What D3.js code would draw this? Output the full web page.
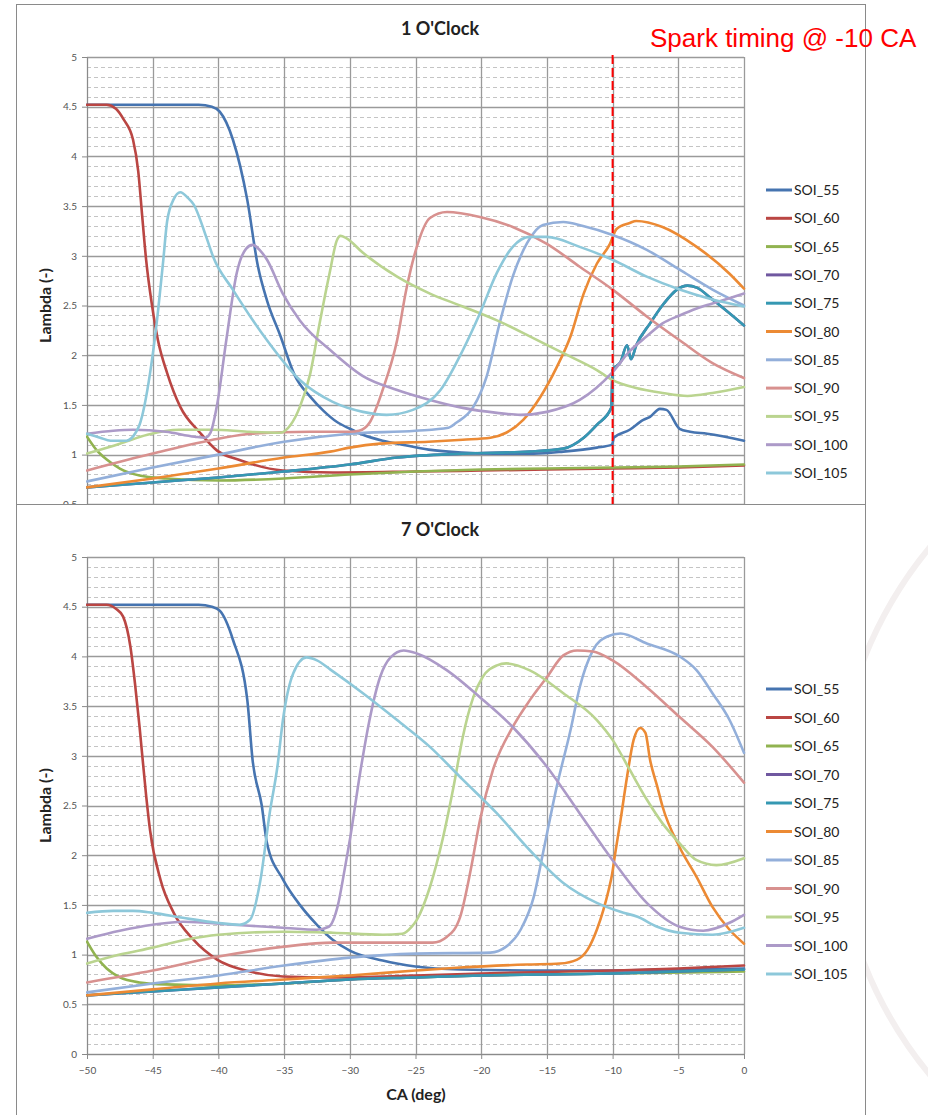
<!DOCTYPE html>
<html><head><meta charset="utf-8">
<script src="https://cdn.jsdelivr.net/npm/d3@7"></script>
<style>body{margin:0;background:#fff}svg{display:block}</style>
</head><body>
<script>
// ---------- data ----------
const seriesNames = ["SOI_55","SOI_60","SOI_65","SOI_70","SOI_75","SOI_80","SOI_85","SOI_90","SOI_95","SOI_100","SOI_105"];
const seriesColors = ["#4674B0","#BA4643","#91B350","#7058A0","#3598B2","#EC8A34","#93AFDA","#D8918F","#BAD48F","#AC9AC8","#8DC8DA"];
const xTicks = [-50,-45,-40,-35,-30,-25,-20,-15,-10,-5,0];
const yTicks = [0,0.5,1,1.5,2,2.5,3,3.5,4,4.5,5];
const sparkCA = -10;

// 1 O'Clock  [CA, lambda]
const oc1_SOI_55 = [[-50,4.52],[-41.5,4.52],[-40.5,4.5],[-39.9,4.45],[-38.9,4.17],[-37.8,3.56],[-37,2.9],[-36.3,2.55],[-35.3,2.2],[-34.2,1.8],[-33,1.58],[-32,1.44],[-31,1.33],[-30,1.26],[-29,1.2],[-27.5,1.14],[-26,1.1],[-24,1.05],[-21.5,1.02],[-19,1.01],[-16,1.01],[-13.75,1.03],[-11.2,1.07],[-10.05,1.10],[-9.9,1.17],[-8.7,1.25],[-7.66,1.35],[-7.15,1.38],[-6.4,1.46],[-5.9,1.45],[-4.9,1.26],[-4.1,1.23],[-2.8,1.21],[0,1.14]];
const oc1_SOI_60 = [[-50,4.52],[-48.5,4.52],[-47.8,4.48],[-47.2,4.37],[-46.5,4.17],[-46.1,3.85],[-45.8,3.4],[-45.5,2.96],[-45.05,2.5],[-44.6,2.15],[-43.9,1.82],[-42.9,1.48],[-41.4,1.22],[-40.1,1.04],[-38.5,0.95],[-37.6,0.91],[-35.1,0.84],[-31.3,0.82],[-25,0.83],[-20,0.84],[-10,0.86],[-5,0.87],[0,0.89]];
const oc1_SOI_65 = [[-50,1.18],[-49.3,1.05],[-48.5,0.95],[-47.5,0.86],[-46,0.79],[-44,0.76],[-40,0.74],[-35,0.76],[-30,0.8],[-25,0.83],[-20,0.85],[-15,0.86],[-10,0.87],[-5,0.88],[0,0.9]];
const oc1_SOI_70 = [[-50,0.67],[-45,0.72],[-40,0.77],[-35,0.83],[-30,0.9],[-26.4,0.97],[-21.4,1.01],[-16.3,1.03],[-13.75,1.06],[-12.2,1.17],[-11.2,1.3],[-10.1,1.47],[-10,1.85],[-9.4,1.93],[-8.9,2.1],[-8.6,1.96],[-8.2,2.1],[-7.15,2.32],[-6.1,2.52],[-5.1,2.66],[-4.3,2.70],[-3.6,2.68],[-2.4,2.56],[0,2.3]];
const oc1_SOI_75 = [[-50,0.67],[-45,0.72],[-40,0.77],[-35,0.83],[-30,0.9],[-26.4,0.97],[-21.4,1.01],[-16.3,1.03],[-13.75,1.06],[-12.2,1.17],[-11.2,1.3],[-10.1,1.47],[-10,1.85],[-9.4,1.93],[-8.9,2.1],[-8.6,1.96],[-8.2,2.1],[-7.15,2.32],[-6.1,2.52],[-5.1,2.66],[-4.3,2.70],[-3.6,2.68],[-2.4,2.56],[0,2.3]];
const oc1_SOI_80 = [[-50,0.67],[-45,0.76],[-40,0.86],[-35,0.97],[-31.5,1.03],[-30,1.07],[-27.7,1.11],[-24,1.13],[-21.4,1.15],[-19.3,1.17],[-18.1,1.22],[-16.8,1.35],[-15.5,1.58],[-14.25,1.88],[-13.2,2.19],[-12.2,2.62],[-11.2,2.92],[-10.2,3.12],[-9.7,3.27],[-8.7,3.33],[-8.2,3.35],[-6.2,3.29],[-3.6,3.09],[-1.1,2.82],[0,2.67]];
const oc1_SOI_85 = [[-50,0.73],[-45,0.87],[-40,1.0],[-35,1.13],[-30,1.21],[-25,1.24],[-22.5,1.27],[-21.9,1.32],[-20.6,1.48],[-19.6,1.78],[-18.6,2.32],[-17.6,2.79],[-16.5,3.13],[-15.3,3.31],[-13.75,3.34],[-12.25,3.3],[-10,3.21],[-7.4,3.06],[-4.9,2.86],[-2.4,2.66],[0,2.5]];
const oc1_SOI_90 = [[-50,0.84],[-45,1.01],[-40,1.16],[-37.5,1.21],[-33,1.23],[-30,1.23],[-29.3,1.24],[-28.5,1.32],[-27.5,1.65],[-26.4,2.15],[-25.7,2.66],[-24.9,3.09],[-23.9,3.38],[-22.6,3.44],[-20.1,3.39],[-17.6,3.29],[-15,3.12],[-12.5,2.89],[-10,2.66],[-7.4,2.39],[-4.9,2.15],[-2.4,1.92],[0,1.77]];
const oc1_SOI_95 = [[-50,1.01],[-47.5,1.11],[-45.4,1.2],[-43,1.25],[-40.4,1.25],[-37.8,1.23],[-35.3,1.22],[-34.5,1.3],[-33.8,1.48],[-33,1.82],[-32.3,2.32],[-31.5,2.85],[-31,3.15],[-30.7,3.2],[-30.3,3.18],[-29,3.03],[-26.4,2.79],[-23.9,2.62],[-21.4,2.49],[-18.8,2.35],[-16.3,2.19],[-13.75,2.02],[-11.2,1.85],[-10,1.75],[-8.2,1.67],[-6.2,1.62],[-4.3,1.59],[-2.4,1.62],[0,1.68]];
const oc1_SOI_100 = [[-50,1.21],[-48,1.24],[-46.5,1.25],[-44,1.23],[-41.8,1.18],[-41,1.17],[-40.6,1.22],[-40.1,1.5],[-39.4,2.15],[-38.6,2.83],[-37.9,3.07],[-37.4,3.11],[-36.8,3.05],[-36.3,2.96],[-35.1,2.62],[-33.8,2.35],[-31.3,2.03],[-29,1.79],[-26.4,1.65],[-23.9,1.55],[-21.4,1.47],[-18.8,1.42],[-17,1.40],[-15,1.43],[-12.5,1.55],[-10,1.83],[-8.7,2.04],[-7.4,2.19],[-6.2,2.32],[-4.9,2.4],[-3.6,2.47],[-2.4,2.52],[0,2.62]];
const oc1_SOI_105 = [[-50,1.21],[-49,1.17],[-48.2,1.14],[-47,1.14],[-46.3,1.22],[-46,1.3],[-45.2,1.82],[-44.7,2.32],[-44.2,2.95],[-43.9,3.35],[-43.4,3.57],[-42.9,3.64],[-42.3,3.58],[-41.9,3.52],[-40.9,3.18],[-40.4,2.99],[-38.9,2.66],[-36.3,2.15],[-33.8,1.75],[-31.3,1.53],[-29,1.43],[-27.2,1.40],[-25.2,1.45],[-23.1,1.65],[-21.4,2.05],[-20.1,2.42],[-18.8,2.83],[-17.6,3.09],[-16.3,3.19],[-15,3.19],[-12.5,3.09],[-10,2.96],[-7.4,2.79],[-4.9,2.66],[-2.4,2.56],[0,2.49]];

// 7 O'Clock  [CA, lambda]
const oc7_SOI_55 = [[-50,4.52],[-41.5,4.52],[-40.5,4.5],[-39.9,4.46],[-38.9,4.17],[-37.8,3.56],[-37.4,2.96],[-36.7,2.5],[-36.3,2.12],[-35.1,1.76],[-33.8,1.5],[-32.5,1.3],[-31.3,1.15],[-30,1.04],[-27.5,0.94],[-25,0.88],[-21.6,0.85],[-15,0.84],[-10,0.84],[-5,0.85],[0,0.86]];
const oc7_SOI_60 = [[-50,4.52],[-48.5,4.52],[-47.8,4.48],[-47.25,4.4],[-46.7,4.1],[-46.35,3.73],[-46,3.29],[-45.5,2.6],[-45.2,2.25],[-44.4,1.75],[-43.4,1.42],[-41.9,1.15],[-40.1,0.95],[-37.6,0.83],[-35.1,0.78],[-31.3,0.77],[-25,0.79],[-20,0.81],[-10,0.84],[-5,0.86],[0,0.89]];
const oc7_SOI_65 = [[-50,1.13],[-49.3,0.98],[-48.5,0.86],[-47.5,0.77],[-46,0.72],[-44,0.7],[-40,0.69],[-35,0.71],[-30,0.75],[-25,0.77],[-20,0.79],[-10,0.81],[0,0.83]];
const oc7_SOI_70 = [[-50,0.59],[-45,0.63],[-40,0.67],[-35,0.71],[-30,0.75],[-25,0.77],[-20,0.79],[-15,0.8],[-10,0.81],[-5,0.83],[0,0.85]];
const oc7_SOI_75 = [[-50,0.59],[-45,0.63],[-40,0.67],[-35,0.71],[-30,0.75],[-25,0.77],[-20,0.79],[-15,0.8],[-10,0.81],[-5,0.83],[0,0.85]];
const oc7_SOI_80 = [[-50,0.59],[-45,0.65],[-40,0.71],[-35,0.75],[-30,0.79],[-25,0.84],[-21.6,0.87],[-16.5,0.9],[-14,0.91],[-12.7,0.95],[-11.9,1.05],[-11.2,1.25],[-10.7,1.45],[-10.3,1.65],[-10.05,1.8],[-9.8,2.02],[-9.4,2.35],[-8.9,2.79],[-8.4,3.16],[-7.9,3.28],[-7.5,3.23],[-7.15,2.96],[-6.6,2.69],[-6.2,2.49],[-4.9,2.08],[-3.6,1.78],[-2.4,1.48],[-1.1,1.25],[0,1.11]];
const oc7_SOI_85 = [[-50,0.62],[-45,0.71],[-40,0.79],[-35,0.89],[-30,0.97],[-25,1.01],[-19.3,1.02],[-18.1,1.08],[-17,1.25],[-16,1.58],[-15.3,2.02],[-14.25,2.69],[-13.2,3.26],[-12.5,3.69],[-11.5,4.06],[-10.4,4.2],[-9.4,4.23],[-7.4,4.13],[-4.9,4.0],[-3.6,3.86],[-2.4,3.63],[-1.1,3.36],[0,3.03]];
const oc7_SOI_90 = [[-50,0.72],[-45,0.84],[-40,0.98],[-35,1.08],[-31.3,1.12],[-27,1.12],[-23.7,1.12],[-22.6,1.18],[-21.6,1.38],[-20.8,1.85],[-20.1,2.35],[-19.1,2.86],[-17.6,3.29],[-16.3,3.56],[-15,3.79],[-13.75,4.01],[-12.7,4.06],[-11.5,4.05],[-10,3.96],[-7.4,3.69],[-4.9,3.39],[-2.4,3.09],[0,2.73]];
const oc7_SOI_95 = [[-50,0.91],[-47.5,1.0],[-45,1.07],[-42.5,1.15],[-40,1.2],[-35,1.23],[-31.3,1.22],[-27.5,1.2],[-26,1.21],[-25.3,1.28],[-24.9,1.35],[-23.9,1.68],[-22.9,2.18],[-22.1,2.69],[-21.4,3.19],[-20.6,3.59],[-19.9,3.79],[-18.8,3.91],[-18.1,3.93],[-16.3,3.86],[-13.75,3.63],[-11.2,3.36],[-10,3.16],[-8.7,2.86],[-7.4,2.56],[-6.2,2.32],[-4.9,2.12],[-3.6,1.95],[-2.1,1.9],[0,1.97]];
const oc7_SOI_100 = [[-50,1.16],[-47.5,1.24],[-45,1.3],[-42.7,1.33],[-38.9,1.3],[-35.1,1.27],[-32.5,1.25],[-31.6,1.28],[-30.9,1.5],[-30.4,1.85],[-30,2.15],[-29.2,2.84],[-28.5,3.36],[-27.7,3.79],[-26.9,3.99],[-25.9,4.06],[-24.9,4.03],[-22.6,3.86],[-20.1,3.59],[-17.6,3.29],[-15,2.89],[-12.5,2.42],[-10,1.95],[-7.4,1.52],[-4.9,1.28],[-3.1,1.24],[-1.1,1.32],[0,1.4]];
const oc7_SOI_105 = [[-50,1.42],[-48,1.44],[-46.5,1.44],[-45,1.42],[-42.7,1.37],[-40.1,1.32],[-38.4,1.3],[-37.6,1.35],[-36.8,1.75],[-36.1,2.42],[-35.5,2.9],[-35.1,3.35],[-34.3,3.83],[-33.3,3.99],[-32.5,3.96],[-31.5,3.87],[-29,3.63],[-26.4,3.36],[-23.9,3.09],[-21.4,2.76],[-18.8,2.42],[-16.3,2.05],[-13.75,1.72],[-11.2,1.52],[-9.4,1.43],[-8.1,1.38],[-6.6,1.28],[-4.9,1.22],[-2.4,1.2],[0,1.27]];

const oc1Data = [oc1_SOI_55,oc1_SOI_60,oc1_SOI_65,oc1_SOI_70,oc1_SOI_75,oc1_SOI_80,oc1_SOI_85,oc1_SOI_90,oc1_SOI_95,oc1_SOI_100,oc1_SOI_105];
const oc7Data = [oc7_SOI_55,oc7_SOI_60,oc7_SOI_65,oc7_SOI_70,oc7_SOI_75,oc7_SOI_80,oc7_SOI_85,oc7_SOI_90,oc7_SOI_95,oc7_SOI_100,oc7_SOI_105];

// ---------- drawing ----------
const W = 928, H = 1115;
const FONT = "Lato, 'Open Sans', 'DejaVu Sans', sans-serif";
const svg = d3.select("body").append("svg").attr("width", W).attr("height", H);
svg.append("rect").attr("width", W).attr("height", H).attr("fill", "#fff");

// faint background decoration (slide watermark arc and bullets)
svg.append("circle").attr("cx", 1249).attr("cy", 811).attr("r", 414)
  .attr("fill", "none").attr("stroke", "#f3efef").attr("stroke-width", 6);
svg.append("circle").attr("cx", 931).attr("cy", 345).attr("r", 2.5).attr("fill", "#222");
svg.append("circle").attr("cx", 931).attr("cy", 567).attr("r", 2.5).attr("fill", "#222");

const x = d3.scaleLinear().domain([-50, 0]).range([87, 744]);

function panel(cfg) {
  const g = svg.append("g");
  g.append("rect").attr("x", 16.5).attr("y", cfg.frameY + 0.5).attr("width", 849).attr("height", cfg.frameH)
    .attr("fill", "#fff").attr("stroke", "#8a8a8a").attr("stroke-width", 1);
  const y = d3.scaleLinear().domain([0, 5]).range([cfg.plotBottom, cfg.plotTop]);
  const id = "clip" + cfg.key;
  g.append("clipPath").attr("id", id).append("rect")
    .attr("x", 86).attr("y", cfg.plotTop - 2).attr("width", 660).attr("height", cfg.plotBottom - cfg.plotTop + 4);

  // minor dashed grid
  const minor = d3.range(0.1, 5.0001, 0.1).filter(v => Math.abs(v*2 - Math.round(v*2)) > 1e-6);
  g.append("g").selectAll("line").data(minor).join("line")
    .attr("x1", x(-50)).attr("x2", x(0)).attr("y1", d => Math.round(y(d)) + 0.5).attr("y2", d => Math.round(y(d)) + 0.5)
    .attr("stroke", "#c4c4c4").attr("stroke-width", 1).attr("stroke-dasharray", "4,3");
  // major grid
  g.append("g").selectAll("line").data(yTicks).join("line")
    .attr("x1", x(-50)).attr("x2", x(0)).attr("y1", d => Math.round(y(d)) + 0.5).attr("y2", d => Math.round(y(d)) + 0.5)
    .attr("stroke", "#9a9a9a").attr("stroke-width", 1.3);
  g.append("g").selectAll("line").data(xTicks).join("line")
    .attr("x1", d => Math.round(x(d)) + 0.5).attr("x2", d => Math.round(x(d)) + 0.5)
    .attr("y1", y(5)).attr("y2", y(0))
    .attr("stroke", "#9a9a9a").attr("stroke-width", 1.3);

  // axes
  const yAxis = d3.axisLeft(y).tickValues(cfg.yLabelTicks).tickSize(5).tickPadding(5)
    .tickFormat(d => d3.format("")(d));
  const ya = g.append("g").attr("transform", `translate(${x(-50)},0)`).call(yAxis);
  ya.select(".domain").attr("stroke", "#8a8a8a");
  ya.selectAll(".tick line").attr("stroke", "#8a8a8a");
  ya.selectAll("text").attr("fill", "#555").style("font-family", FONT).style("font-size", "10px");

  if (cfg.showX) {
    const xAxis = d3.axisBottom(x).tickValues(xTicks).tickSize(5).tickPadding(8);
    const xa = g.append("g").attr("transform", `translate(0,${y(0)})`).call(xAxis);
    xa.select(".domain").attr("stroke", "#8a8a8a");
    xa.selectAll(".tick line").attr("stroke", "#8a8a8a");
    xa.selectAll("text").attr("fill", "#555").style("font-family", FONT).style("font-size", "10px");
  }

  // series
  const line = d3.line().x(d => x(d[0])).y(d => y(d[1])).curve(d3.curveMonotoneX);
  const lg = g.append("g").attr("clip-path", `url(#${id})`);
  cfg.data.forEach((s, i) => {
    lg.append("path").datum(s).attr("d", line).attr("fill", "none")
      .attr("stroke", seriesColors[i]).attr("stroke-width", 2.6)
      .attr("stroke-linejoin", "round").attr("stroke-linecap", "round");
  });

  // spark line
  if (cfg.spark) {
    g.append("line").attr("x1", x(sparkCA)).attr("x2", x(sparkCA))
      .attr("y1", cfg.plotTop - 2).attr("y2", 504)
      .attr("stroke", "#ff0000").attr("stroke-width", 2).attr("stroke-dasharray", "9,4");
  }

  // title
  g.append("text").attr("x", 440).attr("y", cfg.titleY).attr("text-anchor", "middle")
    .style("font-family", FONT).style("font-weight", "bold").style("font-size", "18px").attr("fill", "#222")
    .text(cfg.title);
  // y label
  const cy = (cfg.plotTop + cfg.plotBottom) / 2;
  g.append("text").attr("transform", `translate(51,${cy}) rotate(-90)`).attr("text-anchor", "middle")
    .style("font-family", FONT).style("font-weight", "bold").style("font-size", "16px").attr("fill", "#222")
    .text("Lambda (-)");
  // legend
  seriesNames.forEach((n, i) => {
    const ly = cfg.legendY + i * cfg.legendStep;
    g.append("line").attr("x1", 766).attr("x2", 792).attr("y1", ly).attr("y2", ly)
      .attr("stroke", seriesColors[i]).attr("stroke-width", 3);
    g.append("text").attr("x", 794).attr("y", ly + 5)
      .style("font-family", FONT).style("font-size", "14px").attr("fill", "#222").text(n);
  });
  return {g, y};
}

const p1 = panel({key: "a", frameY: 4, frameH: 500, plotTop: 57, plotBottom: 554, titleY: 35,
  title: "1 O'Clock", data: oc1Data, legendY: 190, legendStep: 28.3, spark: true,
  yLabelTicks: yTicks.filter(v => v >= 0.5), showX: false});
svg.append("text").attr("x", 650).attr("y", 47)
  .style("font-family", "'Liberation Sans', Arial, sans-serif").style("font-size", "26px")
  .attr("fill", "#ff0000").text("Spark timing @ -10 CA");
const p2 = panel({key: "b", frameY: 504, frameH: 640, plotTop: 557, plotBottom: 1054, titleY: 536,
  title: "7 O'Clock", data: oc7Data, legendY: 689, legendStep: 28.5, spark: false,
  yLabelTicks: yTicks, showX: true});
p2.g.append("text").attr("x", 416).attr("y", 1100).attr("text-anchor", "middle")
  .style("font-family", FONT).style("font-weight", "bold").style("font-size", "16px").attr("fill", "#222")
  .text("CA (deg)");
</script>
</body></html>
